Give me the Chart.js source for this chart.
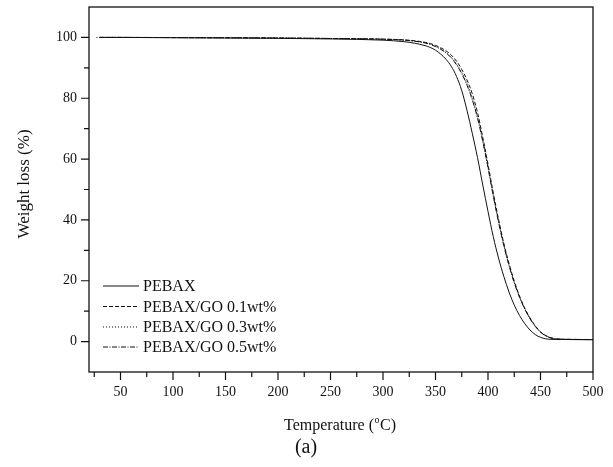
<!DOCTYPE html>
<html><head><meta charset="utf-8">
<script src="https://cdn.jsdelivr.net/npm/chart.js@4.4.1/dist/chart.umd.min.js"></script>
<style>html,body{margin:0;padding:0;background:#fff;overflow:hidden}</style>
</head><body>
<canvas id="c" width="613" height="467"></canvas>
<script>
// ---- data ----
const temperature = [27,30,50,100,150,200,250,300,320,330,340,345,350,355,360,365,370,375,380,385,390,395,400,405,410,415,420,425,430,435,440,445,450,455,460,465,470,480,500];
const pebax = [null,100,100,99.9,99.8,99.7,99.5,99.1,98.6,98.1,97.3,96.7,95.8,94.5,92.8,90.5,87.2,82.5,76.0,68.5,60.5,51.5,42.8,34.5,27.5,21.5,16.3,12.0,8.6,5.9,3.8,2.3,1.4,0.9,0.75,0.7,0.7,0.65,0.6];
const go01 = [null,100,100,99.95,99.9,99.8,99.65,99.45,99.2,98.9,98.4,98.0,97.4,96.6,95.6,94.2,92.2,89.5,86.0,81.5,75.3,67.2,58.3,48.9,40.3,32.4,25.7,19.9,15.0,11.0,7.8,5.2,3.2,2.0,1.25,0.9,0.78,0.72,0.65];
const go03 = [100,100,100,99.95,99.9,99.8,99.65,99.4,99.1,98.8,98.2,97.8,97.1,96.2,95.0,93.5,91.3,88.5,84.8,80.0,74.0,66.3,57.5,48.2,39.6,31.8,25.2,19.5,14.7,10.8,7.6,5.1,3.1,1.9,1.2,0.88,0.78,0.72,0.68];
const go05 = [null,100,100,99.95,99.9,99.8,99.65,99.4,99.1,98.75,98.2,97.7,97.0,96.1,94.9,93.3,91.0,88.1,84.3,79.5,73.5,65.8,57.1,47.9,39.3,31.6,25.0,19.3,14.6,10.7,7.5,5.0,3.1,1.9,1.2,0.88,0.78,0.72,0.68];
const seriesNames = ['PEBAX','PEBAX/GO 0.1wt%','PEBAX/GO 0.3wt%','PEBAX/GO 0.5wt%'];
const xMajorTicks = [50,100,150,200,250,300,350,400,450,500];
const xMinorTicks = [25,75,125,175,225,275,325,375,425,475];
const yMajorTicks = [0,20,40,60,80,100];
const yMinorTicks = [10,30,50,70,90];

const FONT = '"Liberation Serif","Times New Roman",serif';
const INK = '#111';

function pts(arr){
  const out=[];
  for(let i=0;i<temperature.length;i++){ if(arr[i]!==null) out.push({x:temperature[i],y:arr[i]}); }
  return out;
}
const dashes = [[],[4,2],[1,2],[5,1.5,1,1.5]];
const seriesData = [pebax,go01,go03,go05];
const datasets = seriesData.map((d,i)=>({
  label: seriesNames[i],
  data: pts(d),
  borderColor: INK,
  borderWidth: 1,
  borderDash: dashes[i],
  pointRadius: 0,
  fill: false,
  cubicInterpolationMode: 'monotone'
}));

const decor = {
  id:'decor',
  afterDraw(chart){
    const ctx=chart.ctx, a=chart.chartArea, xs=chart.scales.x, ys=chart.scales.y;
    ctx.save();
    ctx.strokeStyle=INK; ctx.fillStyle=INK;
    ctx.lineWidth=1.3; ctx.setLineDash([]);
    ctx.strokeRect(a.left,a.top,a.right-a.left,a.bottom-a.top);
    ctx.lineWidth=1.2;
    ctx.beginPath();
    xMajorTicks.forEach(v=>{const p=xs.getPixelForValue(v); ctx.moveTo(p,a.bottom); ctx.lineTo(p,a.bottom+8);});
    xMinorTicks.forEach(v=>{const p=xs.getPixelForValue(v); ctx.moveTo(p,a.bottom); ctx.lineTo(p,a.bottom+5);});
    yMajorTicks.forEach(v=>{const p=ys.getPixelForValue(v); ctx.moveTo(a.left,p); ctx.lineTo(a.left-8,p);});
    yMinorTicks.forEach(v=>{const p=ys.getPixelForValue(v); ctx.moveTo(a.left,p); ctx.lineTo(a.left-5,p);});
    ctx.stroke();
    ctx.save();
    ctx.font='17px '+FONT; ctx.textAlign='center'; ctx.textBaseline='middle';
    ctx.translate(25,184); ctx.rotate(-Math.PI/2);
    ctx.fillText('Weight loss (%)',0,0);
    ctx.restore();
    ctx.textBaseline='alphabetic'; ctx.textAlign='left';
    const p1='Temperature (', p3='C)';
    ctx.font='16px '+FONT; const w1=ctx.measureText(p1).width, w3=ctx.measureText(p3).width;
    ctx.font='10px '+FONT; const w2=ctx.measureText('o').width+1;
    const total=w1+w2+w3; let x0=340-total/2; const by=430;
    ctx.font='16px '+FONT; ctx.fillText(p1,x0,by);
    ctx.font='10px '+FONT; ctx.fillText('o',x0+w1+0.5,by-7);
    ctx.font='16px '+FONT; ctx.fillText(p3,x0+w1+w2,by);
    ctx.font='20px '+FONT; ctx.textAlign='center';
    ctx.fillText('(a)',306,453);
    const rows=[286,306.5,327,347];
    ctx.font='16px '+FONT; ctx.textAlign='left'; ctx.textBaseline='middle';
    chart.data.datasets.forEach((ds,i)=>{
      const y=rows[i];
      ctx.lineWidth=1; ctx.setLineDash(ds.borderDash);
      ctx.beginPath(); ctx.moveTo(103,y); ctx.lineTo(139,y); ctx.stroke();
      ctx.setLineDash([]);
      ctx.fillText(ds.label,143,y+1);
    });
    ctx.restore();
  }
};

new Chart(document.getElementById('c'),{
  type:'line',
  data:{datasets},
  options:{
    responsive:false,
    animation:false,
    events:[],
    layout:{padding:{left:0,top:7,right:20,bottom:0}},
    plugins:{legend:{display:false},tooltip:{enabled:false}},
    scales:{
      x:{
        type:'linear', min:20, max:500,
        afterFit(s){ s.height=95; s.paddingLeft=0; s.paddingRight=0; },
        grid:{display:false, drawTicks:false},
        border:{display:false},
        ticks:{
          stepSize:25, autoSkip:false, maxRotation:0, padding:12,
          color:INK, font:{family:FONT,size:14},
          callback:(v)=> xMajorTicks.includes(v)? String(v):''
        }
      },
      y:{
        type:'linear', min:-10, max:110,
        afterFit(s){ s.width=89; s.paddingTop=0; s.paddingBottom=0; },
        grid:{display:false, drawTicks:false},
        border:{display:false},
        ticks:{
          stepSize:10, autoSkip:false, padding:12,
          color:INK, font:{family:FONT,size:14},
          callback:(v)=> yMajorTicks.includes(v)? String(v):''
        }
      }
    }
  },
  plugins:[decor]
});
</script>
</body></html>
